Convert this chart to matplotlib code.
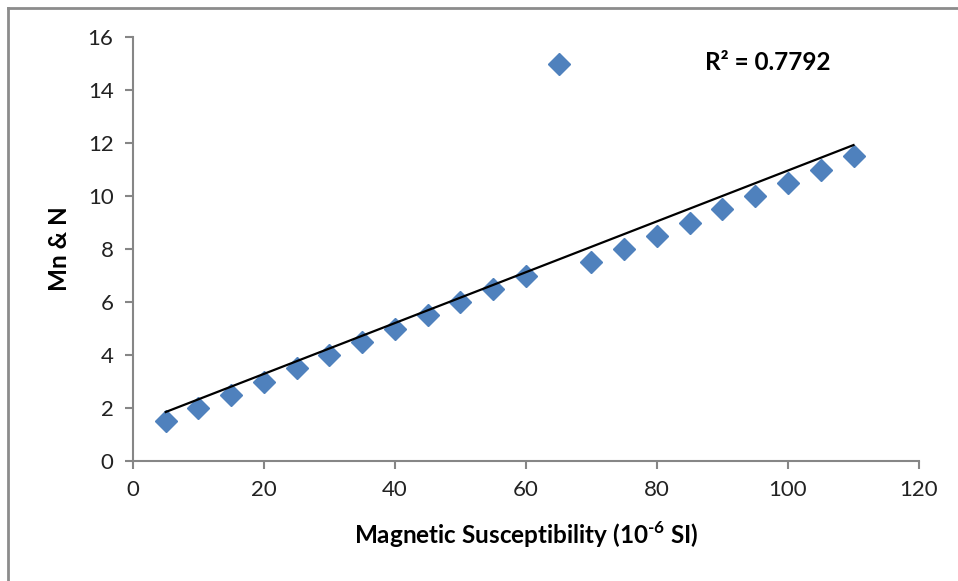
import numpy as np
import matplotlib.pyplot as plt

plt.rcParams['font.family'] = ['Lato', 'DejaVu Sans']
plt.rcParams['mathtext.fontset'] = 'custom'
plt.rcParams['mathtext.rm'] = 'Lato:bold'
plt.rcParams['mathtext.bf'] = 'Lato:bold'

# data
susceptibility = [5, 10, 15, 20, 25, 30, 35, 40, 45, 50, 55, 60, 65,
                  70, 75, 80, 85, 90, 95, 100, 105, 110]
mn_n = [1.5, 2, 2.5, 3, 3.5, 4, 4.5, 5, 5.5, 6, 6.5, 7, 15,
        7.5, 8, 8.5, 9, 9.5, 10, 10.5, 11, 11.5]
r2_label = "R² = 0.7792"

x = np.array(susceptibility)
y = np.array(mn_n)

# linear trendline
slope, intercept = np.polyfit(x, y, 1)
xfit = np.array([x.min(), x.max()])
yfit = slope * xfit + intercept

fig = plt.figure(figsize=(9.58, 5.81), dpi=100)
ax = fig.add_axes([0.1388, 0.2065, 0.8205, 0.7298])

ax.plot(xfit, yfit, color="black", lw=1.6, zorder=3)
ax.plot(x, y, "D", color="#4F81BD", ms=11, mec="#4F81BD", zorder=2)

ax.set_xlim(0, 120)
ax.set_ylim(0, 16)
ax.set_xticks(range(0, 121, 20))
ax.set_yticks(range(0, 17, 2))

for s in ["top", "right"]:
    ax.spines[s].set_visible(False)
for s in ["left", "bottom"]:
    ax.spines[s].set_color("#868686")
    ax.spines[s].set_linewidth(1.5)
ax.tick_params(colors="#868686", width=1.5, length=6, labelsize=16,
               labelcolor="#222222", pad=8)

ax.set_xlabel(r"Magnetic Susceptibility (10$^{\text{-6}}$ SI)", fontsize=17.5,
              fontweight="bold", labelpad=14)
ax.set_ylabel("Mn & N", fontsize=17.5, fontweight="bold", labelpad=12)

ax.text(87.3, 15.05, r2_label, fontsize=17.5, fontweight="bold",
        va="center", ha="left")

# outer chart border (top and left visible in the screenshot)
fig.add_artist(plt.Line2D([0.0084, 0.0084], [0, 0.986], color="#8c8c8c",
                          lw=2, transform=fig.transFigure))
fig.add_artist(plt.Line2D([0.0084, 1], [0.986, 0.986], color="#8c8c8c",
                          lw=2, transform=fig.transFigure))

fig.savefig("out.png", dpi=100)
